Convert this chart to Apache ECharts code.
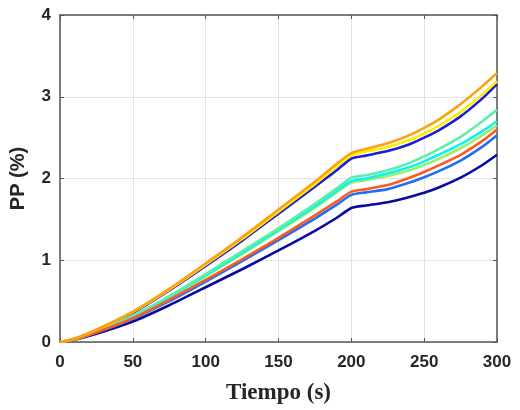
<!DOCTYPE html>
<html><head><meta charset="utf-8">
<script src="https://cdn.jsdelivr.net/npm/echarts@6/dist/echarts.min.js"></script>
<style>html,body{margin:0;padding:0;background:#fff}#c{width:520px;height:410px}</style>
</head><body><div id="c"></div>
<script>
const time = [0,10,25,50,75,100,125,150,175,190,200,210,225,240,250,260,275,290,300];
const navy      = [0,0.028,0.10,0.25,0.45,0.67,0.89,1.12,1.36,1.52,1.64,1.67,1.71,1.775,1.825,1.89,2.01,2.165,2.29];
const dodger    = [0,0.031,0.115,0.285,0.50,0.74,0.99,1.245,1.51,1.68,1.80,1.83,1.87,1.95,2.015,2.09,2.22,2.39,2.53];
const orangered = [0,0.032,0.118,0.29,0.515,0.76,1.01,1.275,1.55,1.72,1.84,1.87,1.92,2.01,2.08,2.16,2.29,2.46,2.60];
const lightgreen= [0,0.033,0.125,0.31,0.545,0.805,1.075,1.355,1.64,1.83,1.95,1.98,2.03,2.10,2.165,2.24,2.37,2.53,2.65];
const cyan      = [0,0.034,0.127,0.315,0.55,0.815,1.09,1.37,1.66,1.85,1.97,2.00,2.06,2.14,2.21,2.29,2.42,2.58,2.70];
const aqua      = [0,0.035,0.13,0.32,0.56,0.83,1.11,1.39,1.69,1.88,2.01,2.04,2.10,2.19,2.27,2.36,2.51,2.70,2.84];
const blue      = [0,0.04,0.145,0.355,0.63,0.93,1.24,1.57,1.90,2.10,2.245,2.28,2.335,2.42,2.50,2.59,2.76,2.98,3.155];
const yellow    = [0,0.04,0.148,0.365,0.64,0.945,1.26,1.595,1.93,2.15,2.28,2.33,2.385,2.47,2.55,2.645,2.815,3.03,3.19];
const orange    = [0,0.04,0.15,0.37,0.65,0.96,1.28,1.62,1.96,2.18,2.31,2.36,2.43,2.53,2.62,2.72,2.91,3.13,3.29];
const xTicks = [0,50,100,150,200,250,300];
const yTicks = [0,1,2,3,4];

const seriesDefs = [
  {name:'navy', data:navy, color:'#0a0aa0'},
  {name:'dodger', data:dodger, color:'#1f6ff5'},
  {name:'blue', data:blue, color:'#1c1ce0'},
  {name:'lightgreen', data:lightgreen, color:'#98f070'},
  {name:'cyan', data:cyan, color:'#10f0f0'},
  {name:'aqua', data:aqua, color:'#5af0a8'},
  {name:'orangered', data:orangered, color:'#ff5a1e'},
  {name:'yellow', data:yellow, color:'#ffee00'},
  {name:'orange', data:orange, color:'#ffa010'}
];
const lab = {fontFamily:'Liberation Sans, Arial, sans-serif', fontWeight:'bold', fontSize:17, color:'#262626'};
const boxLine = {show:true, onZero:false, lineStyle:{color:'#555', width:1.5}};
const chart = echarts.init(document.getElementById('c'), null, {renderer:'canvas'});
chart.setOption({
  animation:false,
  grid:{left:60, right:23, top:15, bottom:68},
  xAxis:[{
    type:'value', min:xTicks[0], max:xTicks[xTicks.length-1], interval:50,
    name:'Tiempo (s)', nameLocation:'middle', nameGap:40,
    nameTextStyle:{fontFamily:'Liberation Serif, Times New Roman, serif', fontSize:23, fontWeight:'bold', color:'#262626'},
    axisLine:boxLine,
    axisTick:{inside:true, length:4, lineStyle:{color:'#555'}},
    axisLabel:{...lab, margin:12},
    splitLine:{show:true, lineStyle:{color:'#e3e3e3', width:1}}
  },{
    type:'value', position:'top', min:0, max:300, interval:50,
    axisLine:boxLine,
    axisTick:{inside:true, length:4, lineStyle:{color:'#555'}},
    axisLabel:{show:false}, splitLine:{show:false}
  }],
  yAxis:[{
    type:'value', min:yTicks[0], max:yTicks[yTicks.length-1], interval:1,
    name:'PP (%)', nameLocation:'middle', nameGap:32,
    nameTextStyle:{fontFamily:'Liberation Sans, Arial, sans-serif', fontSize:20, fontWeight:'bold', color:'#262626'},
    axisLine:boxLine,
    axisTick:{inside:true, length:4, lineStyle:{color:'#555'}},
    axisLabel:{...lab, margin:9},
    splitLine:{show:true, lineStyle:{color:'#e3e3e3', width:1}}
  },{
    type:'value', position:'right', min:0, max:4, interval:1,
    axisLine:boxLine,
    axisTick:{inside:true, length:4, lineStyle:{color:'#555'}},
    axisLabel:{show:false}, splitLine:{show:false}
  }],
  series: seriesDefs.map(s => ({
    name:s.name, type:'line', showSymbol:false, smooth:0.2,
    data: time.map((t,i)=>[t, s.data[i]]),
    lineStyle:{color:s.color, width:2.6}, itemStyle:{color:s.color}
  }))
});
</script></body></html>
